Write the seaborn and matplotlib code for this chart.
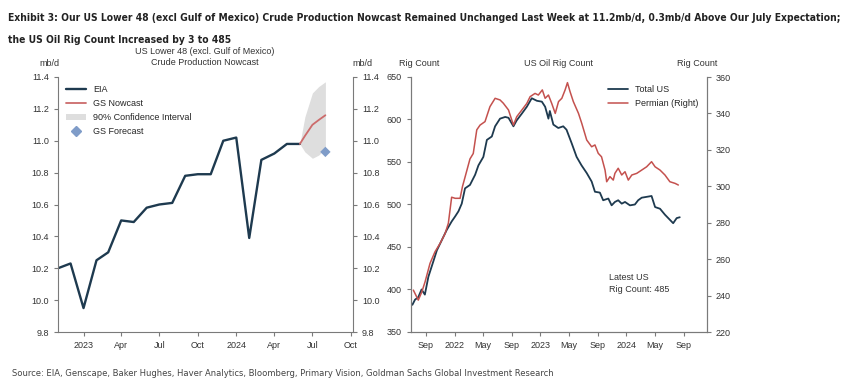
import pandas as pd
import matplotlib.pyplot as plt
import matplotlib.dates as mdates
from matplotlib.lines import Line2D
from matplotlib.patches import Patch
import seaborn as sns

# EIA monthly crude production, mb/d
eia_dates = pd.date_range('2022-11-01', '2024-06-01', freq='MS')
eia_values = [10.20, 10.23, 9.95, 10.25, 10.30, 10.50, 10.49, 10.58, 10.60, 10.61,
              10.78, 10.79, 10.79, 11.00, 11.02, 10.39, 10.88, 10.92, 10.98, 10.98]

# GS nowcast and 90% confidence interval
nowcast_dates = pd.to_datetime(['2024-06-01', '2024-06-13', '2024-07-01', '2024-07-16', '2024-08-01'])
nowcast_values = [10.98, 11.03, 11.10, 11.13, 11.16]
ci_upper = [10.98, 11.15, 11.30, 11.34, 11.37]
ci_lower = [10.98, 10.93, 10.89, 10.91, 10.95]

forecast_date = pd.to_datetime(['2024-08-01'])
forecast_value = [10.93]

# US oil rig count (total), left axis
total_dates = pd.to_datetime([
    '2021-07-05', '2021-07-16', '2021-07-30', '2021-08-13', '2021-08-27', '2021-09-11',
    '2021-10-02', '2021-10-17', '2021-11-07', '2021-11-28', '2021-12-19', '2022-01-03',
    '2022-01-17', '2022-01-31', '2022-02-14', '2022-03-07', '2022-03-29', '2022-04-12',
    '2022-05-03', '2022-05-18', '2022-06-08', '2022-06-22', '2022-07-13', '2022-08-04',
    '2022-08-18', '2022-09-08', '2022-09-22', '2022-10-14', '2022-11-04', '2022-11-25',
    '2022-12-17', '2023-01-07', '2023-01-21', '2023-02-04', '2023-02-10', '2023-02-25',
    '2023-03-18', '2023-04-08', '2023-04-22', '2023-05-14', '2023-06-04', '2023-06-25',
    '2023-07-17', '2023-08-07', '2023-08-21', '2023-09-11', '2023-09-25', '2023-10-17',
    '2023-10-31', '2023-11-14', '2023-11-28', '2023-12-13', '2023-12-27', '2024-01-17',
    '2024-02-07', '2024-02-21', '2024-03-07', '2024-03-28', '2024-04-18', '2024-05-03',
    '2024-05-24', '2024-06-14', '2024-07-05', '2024-07-19', '2024-08-03', '2024-08-16'])
total_values = [
    382, 388, 391, 400, 394, 415,
    433, 446, 458, 470, 480, 486,
    492, 501, 519, 523, 535, 546,
    556, 576, 580, 592, 601, 603,
    602, 592, 599, 607, 615, 625,
    622, 621, 615, 601, 610, 594,
    590, 592, 588, 572, 556, 546,
    537, 527, 515, 514, 505, 507,
    499, 503, 505, 501, 503, 499,
    500, 505, 508, 509, 510, 497,
    495, 488, 482, 478, 484, 485]

# Permian rig count, right axis
permian_dates = pd.to_datetime([
    '2021-07-09', '2021-07-30', '2021-08-14', '2021-08-28', '2021-09-18', '2021-10-09',
    '2021-10-31', '2021-11-21', '2021-12-05', '2021-12-19', '2022-01-03', '2022-01-24',
    '2022-02-03', '2022-02-14', '2022-03-07', '2022-03-21', '2022-04-05', '2022-04-19',
    '2022-05-10', '2022-05-31', '2022-06-22', '2022-07-13', '2022-07-27', '2022-08-18',
    '2022-09-08', '2022-09-22', '2022-10-14', '2022-11-04', '2022-11-18', '2022-12-09',
    '2022-12-23', '2023-01-09', '2023-01-21', '2023-02-04', '2023-02-18', '2023-03-05',
    '2023-03-19', '2023-04-02', '2023-04-16', '2023-04-26', '2023-05-07', '2023-05-21',
    '2023-06-12', '2023-06-26', '2023-07-17', '2023-08-07', '2023-08-21', '2023-09-04',
    '2023-09-18', '2023-10-03', '2023-10-10', '2023-10-24', '2023-11-07', '2023-11-14',
    '2023-11-28', '2023-12-13', '2023-12-27', '2024-01-10', '2024-01-25', '2024-02-15',
    '2024-03-07', '2024-03-28', '2024-04-18', '2024-05-03', '2024-05-24', '2024-06-14',
    '2024-07-05', '2024-07-27', '2024-08-10'])
permian_values = [
    243, 237.5, 242, 247.6, 257.7, 264,
    268.7, 274, 279.7, 294, 293.4, 293.4,
    299.8, 305, 315, 318, 331, 333.6,
    335.5, 343.7, 348.3, 347.4, 345.6, 341.9,
    333.6, 338.2, 341.9, 345.5, 349.2, 351,
    350.1, 352.9, 348.3, 350.1, 345.5, 340,
    346.5, 348.3, 352.9, 356.9, 352, 346.5,
    340, 334.5, 325.4, 321.7, 322.7, 318.1,
    316.2, 308.9, 302.5, 305.3, 303.4, 307.1,
    309.9, 306.2, 308, 303.4, 306.2, 307.1,
    308.9, 310.7, 313.5, 310.7, 308.9, 306.2,
    302.5, 301.6, 300.7]

latest_rig_count = 485

navy = '#1e3a4f'
red = '#c4514e'
nowcast_red = '#cc6b6b'
ci_grey = '#dedede'
diamond_blue = '#7f9cc8'
axis_grey = '#7a7a7a'

sns.set_style('ticks')
plt.rcParams['font.family'] = ['Liberation Sans', 'DejaVu Sans']
plt.rcParams['font.size'] = 6.5
plt.rcParams['axes.edgecolor'] = axis_grey
plt.rcParams['xtick.color'] = axis_grey
plt.rcParams['ytick.color'] = axis_grey
plt.rcParams['xtick.labelcolor'] = '#333333'
plt.rcParams['ytick.labelcolor'] = '#333333'
plt.rcParams['xtick.major.size'] = 3
plt.rcParams['ytick.major.size'] = 3

fig = plt.figure(figsize=(8.48, 3.88), dpi=100)
W, H = 848, 388


def box(x0, x1, y0, y1):
    return [x0 / W, 1 - y1 / H, (x1 - x0) / W, (y1 - y0) / H]


def month_label(v, pos):
    d = mdates.num2date(v)
    return d.strftime('%Y') if d.month == 1 else d.strftime('%b')


# ---- left panel: production nowcast
ax1 = fig.add_axes(box(58, 353, 77, 332))
ax1.fill_between(nowcast_dates, ci_lower, ci_upper, color=ci_grey, lw=0)
sns.lineplot(x=eia_dates, y=eia_values, ax=ax1, color=navy, lw=1.7)
sns.lineplot(x=nowcast_dates, y=nowcast_values, ax=ax1, color=nowcast_red, lw=1.3)
sns.scatterplot(x=forecast_date, y=forecast_value, ax=ax1, marker='D', s=28,
                color=diamond_blue, edgecolor='none')
ax1.set_xlim(pd.Timestamp('2022-11-01'), pd.Timestamp('2024-10-06'))
ax1.set_ylim(9.8, 11.4)
ax1.set_yticks([9.8, 10.0, 10.2, 10.4, 10.6, 10.8, 11.0, 11.2, 11.4])
ax1.yaxis.set_major_formatter(plt.FormatStrFormatter('%.1f'))
ax1.xaxis.set_major_locator(mdates.MonthLocator(bymonth=[1, 4, 7, 10]))
ax1.xaxis.set_major_formatter(plt.FuncFormatter(month_label))
ax1.tick_params(axis='y', left=True, right=True, labelleft=True, labelright=True)
ax1.spines['top'].set_visible(False)
ax1.set_xlabel('')
ax1.set_ylabel('')

handles = [Line2D([], [], color=navy, lw=1.7),
           Line2D([], [], color=nowcast_red, lw=1.3),
           Patch(facecolor=ci_grey, edgecolor='none'),
           Line2D([], [], ls='none', marker='D', ms=5, color=diamond_blue)]
ax1.legend(handles, ['EIA', 'GS Nowcast', '90% Confidence Interval', 'GS Forecast'],
           loc='upper left', bbox_to_anchor=(0.0, 1.0), frameon=False,
           handlelength=2.2, labelspacing=0.55, fontsize=6.5)

# ---- right panel: rig counts
ax2 = fig.add_axes(box(411, 707, 77, 332))
ax3 = ax2.twinx()
sns.lineplot(x=total_dates, y=total_values, ax=ax2, color=navy, lw=1.3)
sns.lineplot(x=permian_dates, y=permian_values, ax=ax3, color=red, lw=1.1)
ax2.set_xlim(pd.Timestamp('2021-06-29'), pd.Timestamp('2024-12-10'))
ax2.set_ylim(350, 650)
ax3.set_ylim(220, 360)
ax2.set_yticks(range(350, 651, 50))
ax3.set_yticks(range(220, 361, 20))
ax2.xaxis.set_major_locator(mdates.MonthLocator(bymonth=[1, 5, 9]))
ax2.xaxis.set_major_formatter(plt.FuncFormatter(month_label))
for a in (ax2, ax3):
    a.spines['top'].set_visible(False)
    a.set_xlabel('')
    a.set_ylabel('')

handles2 = [Line2D([], [], color=navy, lw=1.3), Line2D([], [], color=red, lw=1.1)]
ax2.legend(handles2, ['Total US', 'Permian (Right)'], loc='upper right',
           bbox_to_anchor=(1.0, 1.0), frameon=False, handlelength=2.2,
           labelspacing=0.55, fontsize=6.5)
ax2.text(0.67, 0.19, f'Latest US\nRig Count: {latest_rig_count}', transform=ax2.transAxes,
         fontsize=6.5, color='#333333', va='center', ha='left', linespacing=1.3)

# ---- header texts
fig.text(205 / W, 1 - 57 / H, 'US Lower 48 (excl. Gulf of Mexico)\nCrude Production Nowcast',
         ha='center', va='center', fontsize=6.5, color='#333333', linespacing=1.2)
fig.text(49 / W, 1 - 63 / H, 'mb/d', ha='center', va='center', fontsize=6.5, color='#333333')
fig.text(362 / W, 1 - 63 / H, 'mb/d', ha='center', va='center', fontsize=6.5, color='#333333')
fig.text(419 / W, 1 - 64 / H, 'Rig Count', ha='center', va='center', fontsize=6.5, color='#333333')
fig.text(559 / W, 1 - 64 / H, 'US Oil Rig Count', ha='center', va='center', fontsize=6.5, color='#333333')
fig.text(697 / W, 1 - 64 / H, 'Rig Count', ha='center', va='center', fontsize=6.5, color='#333333')

title_kw = dict(ha='left', va='center', family='DejaVu Sans', fontstretch='condensed',
                fontweight='bold', color='#222222')
t1 = fig.text(8 / W, 1 - 18 / H,
              'Exhibit 3: Our US Lower 48 (excl Gulf of Mexico) Crude Production Nowcast Remained '
              'Unchanged Last Week at 11.2mb/d, 0.3mb/d Above Our July Expectation;',
              fontsize=9.5, **title_kw)
t2 = fig.text(8 / W, 1 - 40 / H, 'the US Oil Rig Count Increased by 3 to 485',
              fontsize=9.5, **title_kw)
src = fig.text(12 / W, 1 - 374 / H,
               'Source: EIA, Genscape, Baker Hughes, Haver Analytics, Bloomberg, Primary Vision, '
               'Goldman Sachs Global Investment Research',
               ha='left', va='center', fontsize=6.8, family='DejaVu Sans',
               fontstretch='condensed', color='#444444')

# squeeze the title and source to the reference widths if the font runs wide
renderer = fig.canvas.get_renderer()
for txt, target in ((t1, 832), (src, 548)):
    w = txt.get_window_extent(renderer).width
    if w > target:
        txt.set_fontsize(txt.get_fontsize() * target / w)
t2.set_fontsize(t1.get_fontsize())

fig.savefig('out.png', dpi=100)
